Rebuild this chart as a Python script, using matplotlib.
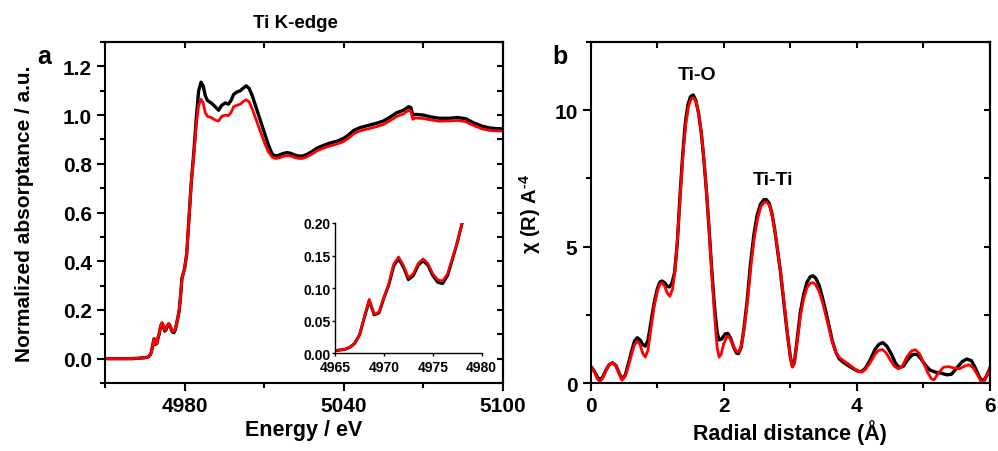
import matplotlib
matplotlib.use('Agg')
import matplotlib.pyplot as plt
from matplotlib.ticker import MultipleLocator

plt.rcParams['font.family'] = ['Liberation Sans', 'DejaVu Sans']
plt.rcParams['font.weight'] = 'bold'
plt.rcParams['axes.labelweight'] = 'bold'
plt.rcParams['mathtext.fontset'] = 'custom'
plt.rcParams['mathtext.rm'] = 'Liberation Sans:bold'
plt.rcParams['mathtext.bf'] = 'Liberation Sans:bold'
plt.rcParams['mathtext.default'] = 'bf'

# --- Ti K-edge XANES (panel a) ---
energy = [4950, 4955, 4960, 4963, 4965, 4966, 4966.5, 4967, 4967.5, 4968,
          4968.5, 4969, 4969.5, 4970, 4970.5, 4971, 4971.5, 4972, 4972.5, 4973,
          4973.5, 4974, 4974.5, 4975, 4975.5, 4976, 4976.5, 4977, 4977.5, 4978,
          4978.5, 4979, 4980, 4980.8, 4981.5, 4982.5, 4983.5, 4984.5, 4985.3, 4986.2,
          4987, 4987.8, 4988.6, 4990, 4991.5, 4992.8, 4994, 4995.3, 4996.5, 4997.5,
          4998.5, 4999.7, 5001, 5002, 5003.2, 5004.3, 5005.5, 5007, 5008.5, 5010,
          5011.5, 5013, 5014.3, 5015.5, 5017, 5018.6, 5020, 5021.5, 5023, 5024.5,
          5026, 5028, 5030, 5032.5, 5035, 5037.5, 5040, 5042, 5043.7, 5046,
          5049, 5052.5, 5055, 5057.5, 5060, 5062.5, 5064.5, 5065.3, 5066, 5067,
          5070, 5073, 5076, 5080, 5083, 5086, 5089, 5092, 5095, 5098, 5100]

abs_black = [0.0, 0.0, 0.0, 0.002, 0.004, 0.006, 0.009, 0.015, 0.028, 0.055,
             0.081, 0.059, 0.062, 0.085, 0.105, 0.134, 0.145, 0.132, 0.113, 0.119,
             0.135, 0.142, 0.135, 0.119, 0.109, 0.107, 0.119, 0.144, 0.170, 0.200,
             0.26, 0.33, 0.37, 0.43, 0.55, 0.72, 0.85, 1.00, 1.10, 1.135,
             1.12, 1.08, 1.06, 1.05, 1.035, 1.02, 1.04, 1.05, 1.045, 1.06,
             1.085, 1.095, 1.10, 1.11, 1.12, 1.11, 1.08, 1.03, 0.98, 0.93,
             0.88, 0.84, 0.832, 0.835, 0.842, 0.846, 0.843, 0.836, 0.832, 0.832,
             0.838, 0.85, 0.865, 0.876, 0.886, 0.893, 0.905, 0.92, 0.937, 0.948,
             0.957, 0.967, 0.976, 0.992, 1.01, 1.02, 1.035, 1.03, 1.0, 1.003,
             1.0, 0.992, 0.987, 0.987, 0.99, 0.985, 0.968, 0.955, 0.947, 0.944, 0.944]

abs_red = [0.0, 0.0, 0.0, 0.002, 0.004, 0.006, 0.009, 0.015, 0.028, 0.056,
           0.083, 0.060, 0.063, 0.086, 0.107, 0.137, 0.148, 0.135, 0.116, 0.122,
           0.138, 0.145, 0.138, 0.122, 0.113, 0.111, 0.122, 0.146, 0.171, 0.200,
           0.26, 0.33, 0.37, 0.43, 0.55, 0.72, 0.84, 0.97, 1.04, 1.065,
           1.05, 1.01, 0.995, 0.99, 0.98, 0.975, 0.995, 1.0, 0.998, 1.01,
           1.035, 1.04, 1.045, 1.055, 1.063, 1.055, 1.025, 0.98, 0.935, 0.89,
           0.85, 0.828, 0.822, 0.824, 0.83, 0.834, 0.832, 0.826, 0.822, 0.822,
           0.828, 0.84, 0.854, 0.865, 0.874, 0.881, 0.892, 0.907, 0.923, 0.935,
           0.943, 0.953, 0.962, 0.978, 0.995, 1.005, 1.02, 1.015, 0.983, 0.988,
           0.986, 0.98, 0.975, 0.976, 0.978, 0.973, 0.957, 0.944, 0.937, 0.935, 0.935]

# --- Fourier transform |chi(R)| (panel b) ---
r_black = [0.00, 0.05, 0.10, 0.14, 0.18, 0.23, 0.28, 0.33, 0.38, 0.43,
           0.47, 0.52, 0.57, 0.62, 0.66, 0.70, 0.74, 0.78, 0.82, 0.86,
           0.90, 0.95, 1.00, 1.04, 1.07, 1.11, 1.15, 1.18, 1.22, 1.26,
           1.30, 1.34, 1.38, 1.42, 1.46, 1.50, 1.54, 1.58, 1.62, 1.66,
           1.70, 1.74, 1.78, 1.82, 1.86, 1.90, 1.93, 1.97, 2.02, 2.06,
           2.10, 2.15, 2.19, 2.22, 2.26, 2.30, 2.35, 2.40, 2.45, 2.50,
           2.55, 2.60, 2.64, 2.68, 2.72, 2.76, 2.80, 2.85, 2.90, 2.95,
           3.00, 3.03, 3.06, 3.10, 3.15, 3.20, 3.25, 3.30, 3.34, 3.38,
           3.43, 3.48, 3.53, 3.58, 3.63, 3.68, 3.73, 3.80, 3.88, 3.95,
           4.02, 4.07, 4.13, 4.20, 4.27, 4.33, 4.39, 4.45, 4.52, 4.58,
           4.64, 4.70, 4.77, 4.84, 4.90, 4.96, 5.03, 5.10, 5.18, 5.27,
           5.35, 5.42, 5.50, 5.58, 5.65, 5.72, 5.78, 5.84, 5.89, 5.94, 6.00]
chi_black = [0.61, 0.45, 0.22, 0.12, 0.22, 0.48, 0.68, 0.74, 0.64, 0.35,
             0.14, 0.30, 0.75, 1.22, 1.55, 1.66, 1.58, 1.42, 1.35, 1.55,
             2.15, 2.90, 3.45, 3.70, 3.74, 3.68, 3.55, 3.52, 3.65, 4.05,
             5.1, 6.8, 8.3, 9.5, 10.2, 10.5, 10.56, 10.35, 9.9, 9.2,
             8.2, 7.0, 5.6, 4.1, 2.8, 1.85, 1.58, 1.62, 1.80, 1.82,
             1.65, 1.30, 1.10, 1.08, 1.30, 1.95, 3.0, 4.35, 5.4, 6.15,
             6.55, 6.72, 6.72, 6.6, 6.25, 5.7, 5.0, 4.1, 3.0, 1.9,
             0.95, 0.62, 0.75, 1.55, 2.6, 3.25, 3.70, 3.90, 3.93, 3.85,
             3.60, 3.15, 2.65, 2.10, 1.55, 1.15, 0.90, 0.75, 0.62, 0.52,
             0.43, 0.42, 0.55, 0.85, 1.22, 1.42, 1.48, 1.35, 1.05, 0.72,
             0.56, 0.62, 0.88, 1.05, 1.05, 0.90, 0.65, 0.47, 0.40, 0.36,
             0.30, 0.32, 0.55, 0.78, 0.88, 0.82, 0.55, 0.22, 0.05, 0.22, 0.55]

r_red = [0.00, 0.05, 0.10, 0.14, 0.18, 0.23, 0.28, 0.33, 0.38, 0.43,
         0.47, 0.52, 0.57, 0.62, 0.66, 0.70, 0.74, 0.78, 0.82, 0.86,
         0.90, 0.95, 1.00, 1.04, 1.07, 1.11, 1.15, 1.19, 1.23, 1.27,
         1.31, 1.35, 1.39, 1.43, 1.47, 1.51, 1.55, 1.59, 1.63, 1.67,
         1.71, 1.75, 1.79, 1.83, 1.87, 1.90, 1.93, 1.96, 2.00, 2.05,
         2.09, 2.14, 2.19, 2.23, 2.27, 2.31, 2.36, 2.41, 2.46, 2.51,
         2.56, 2.61, 2.65, 2.69, 2.73, 2.77, 2.81, 2.86, 2.91, 2.96,
         3.00, 3.03, 3.06, 3.10, 3.15, 3.20, 3.25, 3.30, 3.34, 3.38,
         3.43, 3.48, 3.53, 3.58, 3.63, 3.68, 3.73, 3.80, 3.88, 3.95,
         4.02, 4.07, 4.13, 4.20, 4.27, 4.33, 4.38, 4.44, 4.50, 4.56,
         4.62, 4.68, 4.75, 4.82, 4.88, 4.94, 5.00, 5.06, 5.12, 5.16,
         5.22, 5.30, 5.38, 5.46, 5.54, 5.62, 5.68, 5.74, 5.80, 5.86,
         5.90, 5.95, 6.00]
chi_red = [0.61, 0.42, 0.15, 0.05, 0.18, 0.46, 0.68, 0.75, 0.62, 0.32,
           0.10, 0.25, 0.65, 1.10, 1.42, 1.53, 1.42, 1.10, 0.95, 1.20,
           1.90, 2.75, 3.35, 3.62, 3.68, 3.55, 3.30, 3.18, 3.45, 4.20,
           5.5, 7.1, 8.5, 9.5, 10.15, 10.42, 10.45, 10.25, 9.75, 9.0,
           7.95, 6.7, 5.2, 3.6, 2.2, 1.30, 0.95, 1.05, 1.45, 1.72,
           1.65, 1.38, 1.15, 1.14, 1.45, 2.05, 3.1, 4.35, 5.35, 6.05,
           6.48, 6.63, 6.62, 6.48, 6.1, 5.55, 4.85, 3.95, 2.85, 1.75,
           0.95, 0.58, 0.72, 1.45, 2.45, 3.10, 3.50, 3.66, 3.68, 3.60,
           3.38, 2.98, 2.50, 2.00, 1.50, 1.15, 0.95, 0.82, 0.68, 0.55,
           0.43, 0.40, 0.50, 0.75, 1.05, 1.20, 1.23, 1.10, 0.85, 0.62,
           0.52, 0.62, 0.95, 1.18, 1.22, 1.08, 0.75, 0.40, 0.15, 0.12,
           0.35, 0.58, 0.60, 0.55, 0.52, 0.62, 0.67, 0.58, 0.35, 0.08,
           0.02, 0.25, 0.55]

fig = plt.figure(figsize=(9.98, 4.52), dpi=100)
ax1 = fig.add_axes([0.1052, 0.1504, 0.3988, 0.7544])
ax2 = fig.add_axes([0.5919, 0.1504, 0.4001, 0.7544])
ins = fig.add_axes([0.3357, 0.2162, 0.147, 0.2883])

def style(ax):
    for s in ax.spines.values():
        s.set_linewidth(1.5)
    ax.tick_params(which='both', direction='out', width=1.5, labelsize=15,
                   top=False, right=False)
    ax.tick_params(which='major', length=6)
    ax.tick_params(which='minor', length=3.5)
    # mirrored ticks on top/right pointing inward
    sec_x = ax.secondary_xaxis('top')
    sec_y = ax.secondary_yaxis('right')
    for sec in (sec_x, sec_y):
        sec.tick_params(which='both', direction='in', width=1.5, labelsize=0)
        sec.tick_params(which='major', length=4)
        sec.tick_params(which='minor', length=3)
        sec.spines[:].set_linewidth(1.5)
    return sec_x, sec_y

# panel a
ax1.plot(energy, abs_black, color='black', lw=2.4)
ax1.plot(energy, abs_red, color='red', lw=2.0)
ax1.set_xlim(4950, 5100)
ax1.set_ylim(-0.1, 1.3)
ax1.set_xticks([4980, 5040, 5100])
ax1.xaxis.set_minor_locator(MultipleLocator(30))
ax1.yaxis.set_major_locator(MultipleLocator(0.2))
ax1.yaxis.set_minor_locator(MultipleLocator(0.1))
sx, sy = style(ax1)
sx.set_xticks([4950, 4980, 5010, 5040, 5070, 5100], labels=[])
sy.set_yticks([-0.1 + 0.1 * i for i in range(15)], labels=[])
sx.xaxis.set_minor_locator(plt.NullLocator())
sy.yaxis.set_minor_locator(plt.NullLocator())
ax1.set_yticks([0.0, 0.2, 0.4, 0.6, 0.8, 1.0, 1.2])
ax1.set_yticklabels(['0.0', '0.2', '0.4', '0.6', '0.8', '1.0', '1.2'])
ax1.set_xlabel('Energy / eV', fontsize=15.5, labelpad=3)
ax1.set_ylabel('Normalized absorptance / a.u.', fontsize=15, labelpad=21)

# inset
ins.plot(energy, abs_black, color='black', lw=2.2)
ins.plot(energy, abs_red, color='red', lw=1.8)
ins.set_xlim(4965, 4980)
ins.set_ylim(0, 0.2)
ins.set_xticks([4965, 4970, 4975, 4980])
ins.set_yticks([0.0, 0.05, 0.10, 0.15, 0.20])
ins.set_yticklabels(['0.00', '0.05', '0.10', '0.15', '0.20'])
ins.spines['top'].set_visible(False)
ins.spines['right'].set_visible(False)
for s in ('left', 'bottom'):
    ins.spines[s].set_linewidth(1.0)
ins.tick_params(direction='out', length=2, width=1, labelsize=10)
ins.tick_params(axis='x', pad=3)
ins.tick_params(axis='y', pad=1)
ins.patch.set_alpha(0)

# panel b
ax2.plot(r_black, chi_black, color='black', lw=2.4)
ax2.plot(r_red, chi_red, color='red', lw=2.0)
ax2.set_xlim(0, 6)
ax2.set_ylim(0, 12.5)
ax2.xaxis.set_major_locator(MultipleLocator(2))
ax2.xaxis.set_minor_locator(MultipleLocator(1))
ax2.yaxis.set_major_locator(MultipleLocator(5))
ax2.yaxis.set_minor_locator(MultipleLocator(2.5))
sx2, sy2 = style(ax2)
sx2.set_xticks([0, 1, 2, 3, 4, 5, 6], labels=[])
sy2.set_yticks([0, 2.5, 5, 7.5, 10, 12.5], labels=[])
sx2.xaxis.set_minor_locator(plt.NullLocator())
sy2.yaxis.set_minor_locator(plt.NullLocator())
ax2.set_xlabel('Radial distance (Å)', fontsize=15.5, labelpad=3)
ax2.set_ylabel('χ (R) A$^{\\text{-4}}$', fontsize=14.5, labelpad=8)
ax2.text(1.60, 11.32, 'Ti-O', fontsize=14, ha='center', va='center')
ax2.text(2.74, 7.46, 'Ti-Ti', fontsize=14, ha='center', va='center')

fig.text(0.2956, 0.949, 'Ti K-edge', fontsize=13.5, ha='center', va='center')
fig.text(0.037, 0.874, 'a', fontsize=18, ha='left', va='center')
fig.text(0.553, 0.874, 'b', fontsize=18, ha='left', va='center')

fig.savefig('out.png', dpi=100)
